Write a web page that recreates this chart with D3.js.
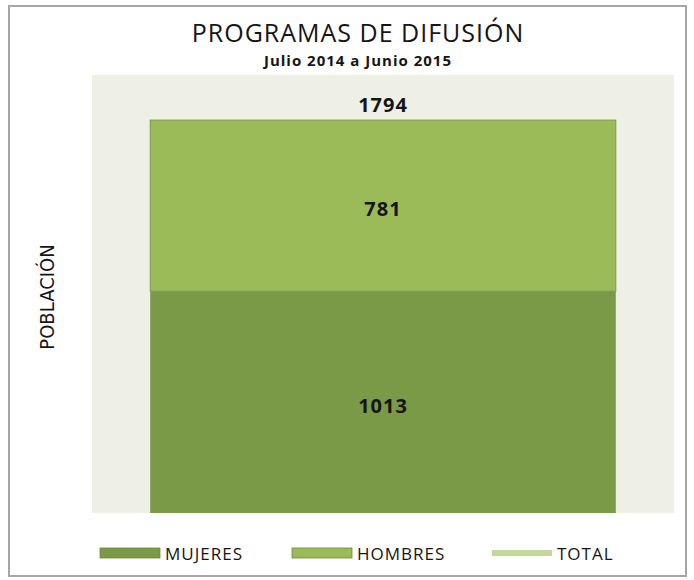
<!DOCTYPE html>
<html>
<head>
<meta charset="utf-8">
<script src="https://cdn.jsdelivr.net/npm/d3@7"></script>
<style>
  body { margin: 0; background: #fff; }
  text { font-family: "Open Sans", Lato, sans-serif; fill: #151515; }
</style>
</head>
<body>
<div id="chart"></div>
<script>
// data
var categories = ["Julio 2014 a Junio 2015"];
var mujeres = [1013];
var hombres = [781];
var total = [1794];
var seriesNames = ["MUJERES", "HOMBRES", "TOTAL"];

function init()
{
    var w = 694;
    var h = 580;
    var plot = {left: 92, right: 674, top: 75, bottom: 513};

    var svg = d3.select("#chart")
                .append("svg")
                .attr("width", w)
                .attr("height", h);

    // outer frame
    svg.append("rect")
        .attr("x", 9).attr("y", 6)
        .attr("width", 677).attr("height", 570)
        .attr("fill", "#fff")
        .attr("stroke", "#a6a6a6")
        .attr("stroke-width", 2);

    svg.append("rect")
        .attr("x", plot.left).attr("y", plot.top)
        .attr("width", plot.right - plot.left)
        .attr("height", plot.bottom - plot.top)
        .attr("fill", "#eef0e6");

    var x = d3.scaleBand()
              .domain(categories)
              .range([plot.left, plot.right])
              .paddingInner(0.2)
              .paddingOuter(0.1);

    var y = d3.scaleLinear()
              .domain([0, 2000])
              .range([plot.bottom, plot.top]);

    var stack = categories.map(function(c, i) {
        return {cat: c, m: mujeres[i], h: hombres[i], t: total[i]};
    });

    var g = svg.append("g");

    // mujeres
    g.selectAll("rect.muj")
        .data(stack)
        .enter()
        .append("rect")
        .attr("class", "muj")
        .attr("x", function(d) { return x(d.cat); })
        .attr("y", function(d) { return y(d.m); })
        .attr("width", x.bandwidth())
        .attr("height", function(d) { return y(0) - y(d.m); })
        .style("fill", "#7b9a47");

    // hombres
    g.selectAll("rect.hom")
        .data(stack)
        .enter()
        .append("rect")
        .attr("class", "hom")
        .attr("x", function(d) { return x(d.cat); })
        .attr("y", function(d) { return y(d.m + d.h); })
        .attr("width", x.bandwidth())
        .attr("height", function(d) { return y(d.m) - y(d.m + d.h); })
        .style("fill", "#9bbb59")
        .style("stroke", "#7f9a4c")
        .style("stroke-width", 1);

    // value labels
    function label(cls, yf, val) {
        g.selectAll("text." + cls)
            .data(stack).enter().append("text")
            .attr("class", cls)
            .attr("x", function(d) { return x(d.cat) + x.bandwidth() / 2; })
            .attr("y", yf)
            .attr("text-anchor", "middle")
            .style("font-size", "20px").style("font-weight", "bold")
            .style("letter-spacing", "1px")
            .text(val);
    }
    label("lm", function(d) { return (y(0) + y(d.m)) / 2 + 11; }, function(d) { return d.m; });
    label("lh", function(d) { return (y(d.m) + y(d.m + d.h)) / 2 + 10; }, function(d) { return d.h; });
    label("lt", function(d) { return y(d.t) - 8; }, function(d) { return d.t; });

    // titles
    svg.append("text")
        .attr("x", 358).attr("y", 42)
        .attr("text-anchor", "middle")
        .style("font-size", "25px")
        .style("letter-spacing", "1px")
        .text("PROGRAMAS DE DIFUSIÓN");

    svg.append("text")
        .attr("x", 358).attr("y", 66)
        .attr("text-anchor", "middle")
        .style("font-size", "15px").style("font-weight", "bold")
        .style("letter-spacing", "1px")
        .text(categories[0]);

    svg.append("text")
        .attr("transform", "translate(54,297) rotate(-90)")
        .attr("text-anchor", "middle")
        .style("font-family", "'Liberation Sans Narrow', 'DejaVu Sans Condensed', sans-serif")
        .style("font-size", "20px")
        .text("POBLACIÓN");

    // legend
    var legX = [100, 292, 492];
    var legColors = ["#7b9a47", "#9bbb59", "#c4d79b"];
    var leg = svg.selectAll("g.leg")
        .data(seriesNames)
        .enter()
        .append("g")
        .attr("transform", function(d, i) { return "translate(" + legX[i] + ",553)"; });

    leg.append("rect")
        .attr("x", 0)
        .attr("y", function(d, i) { return i == 2 ? -3 : -5; })
        .attr("width", 60)
        .attr("height", function(d, i) { return i == 2 ? 6 : 10; })
        .style("fill", function(d, i) { return legColors[i]; })
        .style("stroke", function(d, i) { return i == 2 ? "none" : "#6b8a3a"; })
        .style("stroke-width", 0.8);

    leg.append("text")
        .attr("x", 65)
        .attr("y", 7)
        .style("font-size", "17px")
        .style("letter-spacing", "1px")
        .text(function(d) { return d; });
}
window.onload = init;
</script>
</body>
</html>
